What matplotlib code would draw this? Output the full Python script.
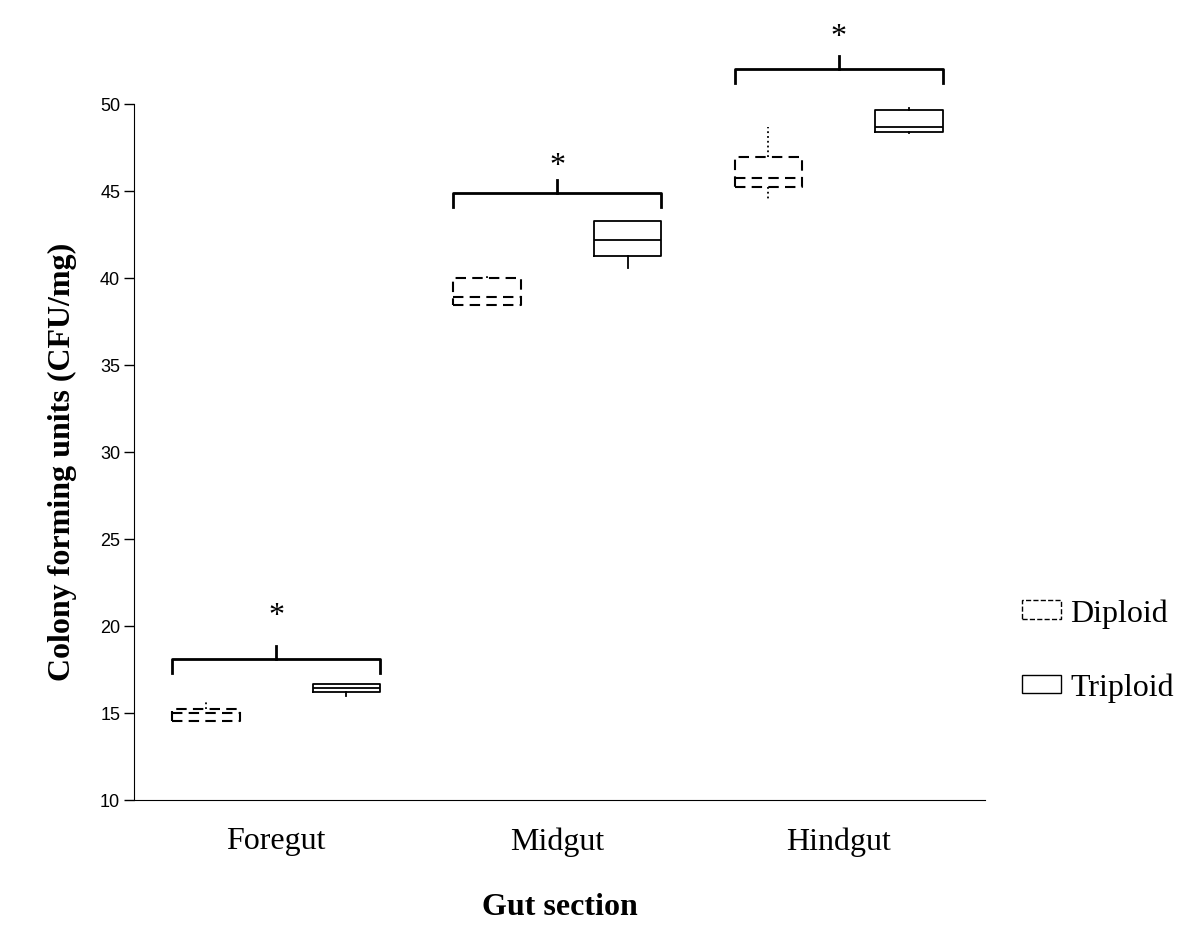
import matplotlib.pyplot as plt
from matplotlib.patches import Patch

sections = ["Foregut", "Midgut", "Hindgut"]
groups = ["Diploid", "Triploid"]

# box statistics (CFU/mg)
diploid_whislo = [14.56, 38.45, 44.43]
diploid_q1 = [14.56, 38.45, 45.23]
diploid_med = [15.0, 38.91, 45.75]
diploid_q3 = [15.23, 40.0, 46.95]
diploid_whishi = [15.69, 40.2, 48.68]

triploid_whislo = [15.98, 40.57, 48.33]
triploid_q1 = [16.21, 41.26, 48.39]
triploid_med = [16.44, 42.18, 48.68]
triploid_q3 = [16.67, 43.28, 49.66]
triploid_whishi = [16.67, 43.28, 49.77]

# significance brackets
bracket_y = [18.1, 44.9, 52.0]
star_y = [20.6, 46.45, 53.9]
stars = ["*", "*", "*"]


def make_stats(lo, q1, med, q3, hi):
    return [dict(whislo=a, q1=b, med=c, q3=d, whishi=e, fliers=[])
            for a, b, c, d, e in zip(lo, q1, med, q3, hi)]


fig = plt.figure(figsize=(12, 9.45), dpi=100)
ax = fig.add_axes([0.1117, 0.1524, 0.7091, 0.7365])

pos = [1, 2, 3]
off = 0.25
w = 0.24

ax.bxp(make_stats(diploid_whislo, diploid_q1, diploid_med, diploid_q3, diploid_whishi),
       positions=[p - off for p in pos], widths=w, showcaps=False, showfliers=False,
       boxprops=dict(color="black", linestyle=(0, (5, 3)), linewidth=1.5),
       medianprops=dict(color="black", linestyle=(0, (5, 3)), linewidth=1.5),
       whiskerprops=dict(color="black", linestyle=":", linewidth=1.3))
ax.bxp(make_stats(triploid_whislo, triploid_q1, triploid_med, triploid_q3, triploid_whishi),
       positions=[p + off for p in pos], widths=w, showcaps=False, showfliers=False,
       boxprops=dict(color="black", linewidth=1.3),
       medianprops=dict(color="black", linewidth=1.3),
       whiskerprops=dict(color="black", linewidth=1.3))

for p, by, sy, s in zip(pos, bracket_y, star_y, stars):
    x0, x1 = p - off - w / 2, p + off + w / 2
    ax.plot([x0, x0, x1, x1], [by - 0.8, by, by, by - 0.8], color="black",
            linewidth=2, clip_on=False)
    ax.plot([p, p], [by, by + 0.75], color="black", linewidth=2, clip_on=False)
    ax.text(p, sy, s, ha="center", va="center", fontsize=23,
            family="Liberation Serif")

ax.set_xlim(0.495, 3.52)
ax.set_ylim(10, 50)
ax.set_yticks(range(10, 51, 5))
ax.set_xticks(pos)
ax.set_xticklabels(sections, family="Liberation Serif", fontsize=23)
ax.tick_params(axis="x", length=0, pad=19)
ax.tick_params(axis="y", length=7, width=1, labelsize=13, pad=3)
for lab in ax.get_yticklabels():
    lab.set_family("Liberation Sans")
ax.spines["top"].set_visible(False)
ax.spines["right"].set_visible(False)
ax.set_xlabel("Gut section", family="Liberation Serif", fontweight="bold",
              fontsize=23, labelpad=26)
ax.set_ylabel("Colony forming units (CFU/mg)", family="Liberation Serif",
              fontweight="bold", fontsize=23)
ax.yaxis.set_label_coords(-0.067, 0.487)

handles = [Patch(facecolor="white", edgecolor="black", linestyle="--", linewidth=1),
           Patch(facecolor="white", edgecolor="black", linewidth=1)]
fig.legend(handles, groups, loc="center left", bbox_to_anchor=(0.828, 0.311),
           frameon=False, prop=dict(family="Liberation Serif", size=23),
           labelspacing=1.4, handlelength=1.2, handleheight=0.5, handletextpad=0.3)

fig.savefig("out.png", dpi=100)
